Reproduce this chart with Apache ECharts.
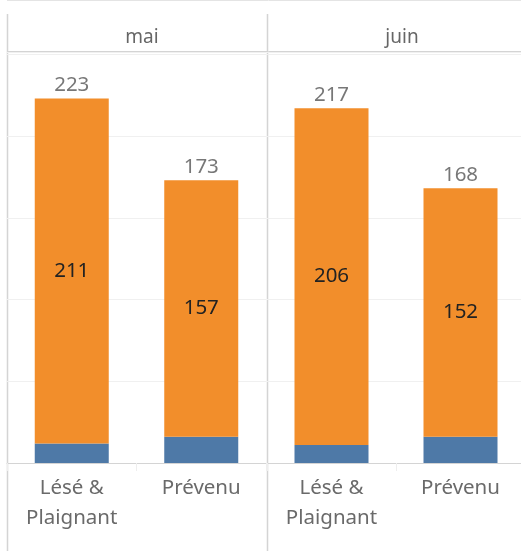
<!DOCTYPE html>
<html>
<head>
<meta charset="utf-8">
<script src="https://cdn.jsdelivr.net/npm/echarts@6/dist/echarts.min.js"></script>
<style>
  html, body { margin: 0; padding: 0; background: #fff; overflow: hidden; }
  /* a little wider than the window: the right panel is cut off in the original */
  #chart { width: 530px; height: 551px; }
</style>
</head>
<body>
<div id="chart"></div>
<script>
// data
const months = ['mai', 'juin'];
const roles = ['Lésé & Plaignant', 'Prévenu'];
const blueMai = [12, 16];
const orangeMai = [211, 157];
const blueJuin = [11, 16];
const orangeJuin = [206, 152];

const FONT = '"Noto Sans", sans-serif';
const BLUE = '#4e79a7';
const ORANGE = '#f28e2b';
const LINE = '#d4d4d4';

const totals = (a, b) => a.map((v, i) => v + b[i]);

const chart = echarts.init(document.getElementById('chart'), null, { renderer: 'canvas' });

// one panel per month
const panels = [
  { blue: blueMai, orange: orangeMai, left: 7, width: 259 },
  { blue: blueJuin, orange: orangeJuin, left: 267, width: 258 }
];

const grids = [], xAxes = [], yAxes = [], series = [];
panels.forEach((p, i) => {
  grids.push({ left: p.left, top: 52, width: p.width, height: 411 });
  xAxes.push({
    type: 'category',
    gridIndex: i,
    data: roles.map(r => r.replace(' & ', ' &\n')),
    axisLine: { show: true, lineStyle: { color: LINE, width: 1 } },
    axisTick: { show: true, length: 8, interval: 0, lineStyle: { color: '#eeeeee' } },
    axisLabel: {
      color: '#6a6a6a', fontFamily: FONT, fontSize: 20.5, lineHeight: 30,
      margin: 10, verticalAlign: 'top', interval: 0
    }
  });
  yAxes.push({
    type: 'value',
    gridIndex: i,
    min: 0, max: 251.4, interval: 50,
    axisLabel: { show: false },
    axisLine: { show: false },
    axisTick: { show: false },
    splitLine: { show: true, lineStyle: { color: '#f0f0f0', width: 1 } }
  });
  series.push({
    type: 'bar', xAxisIndex: i, yAxisIndex: i, stack: 's' + i,
    barWidth: 74, itemStyle: { color: BLUE },
    data: p.blue
  });
  series.push({
    type: 'bar', xAxisIndex: i, yAxisIndex: i, stack: 's' + i,
    barWidth: 74, itemStyle: { color: ORANGE },
    label: { show: true, position: 'inside', color: '#222', fontFamily: FONT, fontSize: 20.5 },
    data: p.orange
  });
  // totals on top
  series.push({
    type: 'scatter', xAxisIndex: i, yAxisIndex: i,
    symbolSize: 0, silent: true,
    label: { show: true, position: 'top', distance: 3, color: '#555', fontFamily: FONT, fontSize: 20.5 },
    data: totals(p.blue, p.orange)
  });
});

chart.setOption({
  animation: false,
  title: months.map((m, i) => ({
    text: m,
    left: 137 + i * 260, top: 23, textAlign: 'center',
    textStyle: { color: '#666', fontFamily: FONT, fontSize: 19, fontWeight: 'normal' }
  })),
  grid: grids,
  xAxis: xAxes,
  yAxis: yAxes,
  series: series,
  graphic: [
    { type: 'line', silent: true, shape: { x1: 7, y1: 0.5, x2: 530, y2: 0.5 }, style: { stroke: '#e4e4e4', lineWidth: 1 } },
    { type: 'line', silent: true, shape: { x1: 7, y1: 51.5, x2: 530, y2: 51.5 }, style: { stroke: LINE, lineWidth: 1 } },
    { type: 'line', silent: true, shape: { x1: 7.5, y1: 14, x2: 7.5, y2: 551 }, style: { stroke: LINE, lineWidth: 1.5 } },
    { type: 'line', silent: true, shape: { x1: 267.5, y1: 14, x2: 267.5, y2: 551 }, style: { stroke: LINE, lineWidth: 1.5 } }
  ]
});
</script>
</body>
</html>
